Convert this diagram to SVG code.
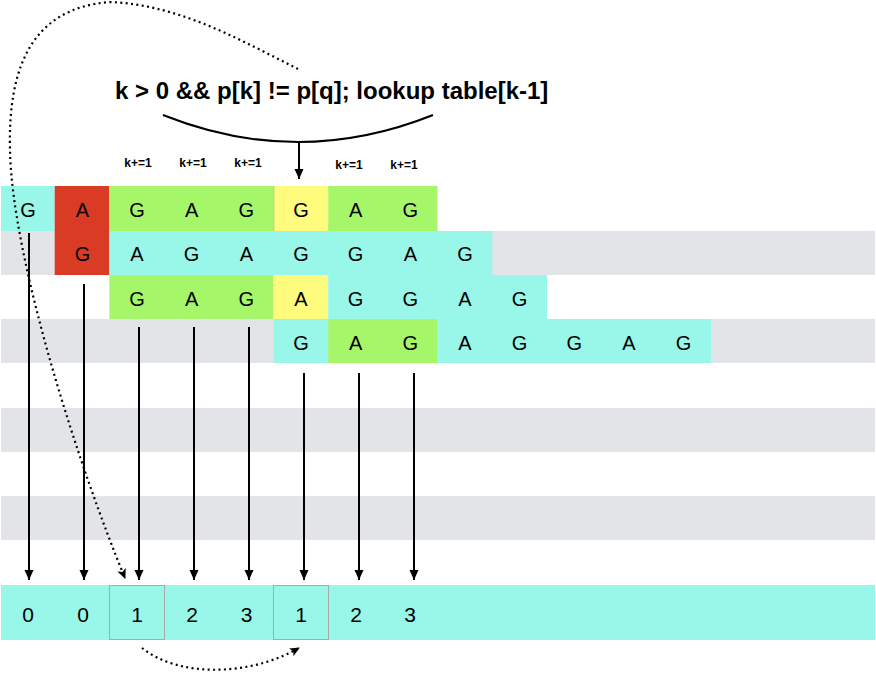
<svg xmlns="http://www.w3.org/2000/svg" width="876" height="673" viewBox="0 0 876 673">
<defs>
<style>
.cy{fill:#98f7e9}.gr{fill:#a6f66a}.rd{fill:#d93b25}.ye{fill:#fffb7c}.st{fill:#e3e4e8}
.t{font-family:"Liberation Sans",Arial,sans-serif;font-size:20px;fill:#000;text-anchor:middle}
.n{font-family:"Liberation Sans",Arial,sans-serif;font-size:21px;fill:#000;text-anchor:middle}
.k{font-family:"Liberation Sans",Arial,sans-serif;font-size:12px;font-weight:bold;fill:#000;text-anchor:middle}
.h{font-family:"Liberation Sans",Arial,sans-serif;font-size:24px;font-weight:bold;fill:#000}
.ar{stroke:#000;stroke-width:2;fill:none}
.dot{stroke:#000;stroke-width:2.2;fill:none;stroke-dasharray:2 3.4;stroke-linecap:butt}
.box{fill:none;stroke:#aaaaaa;stroke-width:1}
</style>
<marker id="ah" markerWidth="10" markerHeight="10" viewBox="0 0 10 10" refX="10" refY="5" orient="auto" markerUnits="userSpaceOnUse">
<path d="M0,0.5 L10,5 L0,9.5 Z" fill="#000"/>
</marker>
<marker id="ahd" markerWidth="10" markerHeight="10" viewBox="0 0 10 10" refX="9" refY="5" orient="auto" markerUnits="userSpaceOnUse">
<path d="M0,0.5 L10,5 L0,9.5 L2.5,5 Z" fill="#000"/>
</marker>
</defs>
<rect width="876" height="673" fill="#fff"/>
<g id="stripes">
<rect class="st" x="1" y="231" width="874" height="44"/>
<rect class="st" x="1" y="319" width="874" height="44"/>
<rect class="st" x="1" y="408" width="874" height="44"/>
<rect class="st" x="1" y="496" width="874" height="44"/>
</g>
<g id="row1">
<rect class="cy" x="1" y="186" width="53.7" height="45"/>
<rect class="rd" x="54.7" y="186" width="54.7" height="89"/>
<rect class="gr" x="109.4" y="186" width="164.1" height="45"/>
<rect class="ye" x="273.5" y="186" width="54.7" height="45"/>
<rect class="gr" x="328.2" y="186" width="109.3" height="45"/>
<line x1="273.8" y1="186" x2="273.8" y2="231" stroke="#b8b8a8" stroke-width="1"/>
<text class="t" x="28" y="216.5">G</text>
<text class="t" x="82.5" y="216.5">A</text>
<text class="t" x="137" y="216.5">G</text>
<text class="t" x="191.6" y="216.5">A</text>
<text class="t" x="246.3" y="216.5">G</text>
<text class="t" x="301" y="216.5">G</text>
<text class="t" x="355.6" y="216.5">A</text>
<text class="t" x="410.3" y="216.5">G</text>
</g>
<g id="row2">
<rect class="cy" x="109.4" y="231" width="382.9" height="44"/>
<text class="t" x="82.5" y="261">G</text>
<text class="t" x="137" y="261">A</text>
<text class="t" x="191.6" y="261">G</text>
<text class="t" x="246.3" y="261">A</text>
<text class="t" x="301" y="261">G</text>
<text class="t" x="355.6" y="261">G</text>
<text class="t" x="410.3" y="261">A</text>
<text class="t" x="465" y="261">G</text>
</g>
<g id="row3">
<rect class="gr" x="109.4" y="275" width="164.1" height="44"/>
<rect class="ye" x="273.5" y="275" width="54.7" height="44"/>
<rect class="cy" x="328.2" y="275" width="218.8" height="44"/>
<text class="t" x="137" y="305.5">G</text>
<text class="t" x="191.6" y="305.5">A</text>
<text class="t" x="246.3" y="305.5">G</text>
<text class="t" x="301" y="305.5">A</text>
<text class="t" x="355.6" y="305.5">G</text>
<text class="t" x="410.3" y="305.5">G</text>
<text class="t" x="465" y="305.5">A</text>
<text class="t" x="519.6" y="305.5">G</text>
</g>
<g id="row4">
<rect class="cy" x="273.5" y="319" width="54.7" height="44"/>
<rect class="gr" x="328.2" y="319" width="109.3" height="44"/>
<rect class="cy" x="437.5" y="319" width="273.5" height="44"/>
<text class="t" x="301" y="349.5">G</text>
<text class="t" x="355.6" y="349.5">A</text>
<text class="t" x="410.3" y="349.5">G</text>
<text class="t" x="465" y="349.5">A</text>
<text class="t" x="519.6" y="349.5">G</text>
<text class="t" x="574.3" y="349.5">G</text>
<text class="t" x="629" y="349.5">A</text>
<text class="t" x="683.6" y="349.5">G</text>
</g>
<g id="table">
<rect class="cy" x="1" y="585" width="874" height="55"/>
<rect class="box" x="109.5" y="585.5" width="55" height="54"/>
<rect class="box" x="273.5" y="585.5" width="55" height="54"/>
<text class="n" x="28" y="622">0</text>
<text class="n" x="83" y="622">0</text>
<text class="n" x="137" y="622">1</text>
<text class="n" x="192" y="622">2</text>
<text class="n" x="246.5" y="622">3</text>
<text class="n" x="301" y="622">1</text>
<text class="n" x="356" y="622">2</text>
<text class="n" x="410" y="622">3</text>
</g>
<g id="labels">
<text class="h" x="115" y="99">k &gt; 0 &amp;&amp; p[k] != p[q]; lookup table[k-1]</text>
<text class="k" x="138" y="166.5">k+=1</text>
<text class="k" x="193" y="166.5">k+=1</text>
<text class="k" x="248" y="166.5">k+=1</text>
<text class="k" x="349" y="169">k+=1</text>
<text class="k" x="404" y="169">k+=1</text>
</g>
<g id="connectors">
<path class="ar" d="M163,115 Q298,169 433,115"/>
<line class="ar" x1="299" y1="143" x2="299" y2="179" marker-end="url(#ah)"/>
<line class="ar" x1="29" y1="233" x2="29" y2="580" marker-end="url(#ah)"/>
<line class="ar" x1="84" y1="284" x2="84" y2="580" marker-end="url(#ah)"/>
<line class="ar" x1="139" y1="327" x2="139" y2="580" marker-end="url(#ah)"/>
<line class="ar" x1="194" y1="327" x2="194" y2="580" marker-end="url(#ah)"/>
<line class="ar" x1="249" y1="327" x2="249" y2="580" marker-end="url(#ah)"/>
<line class="ar" x1="304" y1="373" x2="304" y2="580" marker-end="url(#ah)"/>
<line class="ar" x1="359" y1="373" x2="359" y2="580" marker-end="url(#ah)"/>
<line class="ar" x1="414" y1="373" x2="414" y2="580" marker-end="url(#ah)"/>
<path class="dot" d="M298,69 C240,40 180,5 110,2 C30,8 8,70 10,150 C12,260 80,470 125,578" marker-end="url(#ahd)"/>
<path class="dot" d="M142,648 C180,678 250,676 299,648" marker-end="url(#ahd)"/>
</g>
</svg>
